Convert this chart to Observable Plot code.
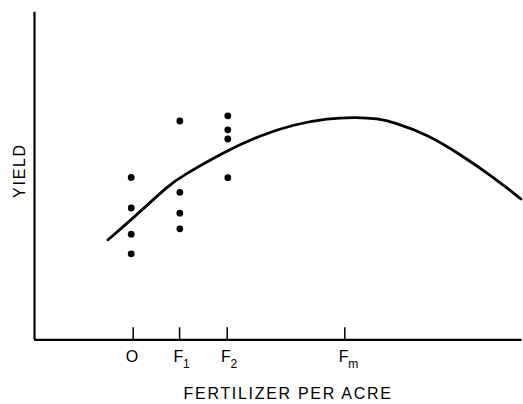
<!DOCTYPE html>
<html>
<head>
<meta charset="utf-8">
<script src="https://cdn.jsdelivr.net/npm/d3@7"></script>
<script src="https://cdn.jsdelivr.net/npm/@observablehq/plot@0.6"></script>
<style>
  html, body { margin: 0; padding: 0; background: #fff; }
</style>
</head>
<body>
<div id="chart"></div>
<script>
// Fertilizer levels (x, arbitrary units) and their tick labels
const tickX = [2.025, 2.976, 3.953, 6.365];
const tickMain = ["O", "F", "F", "F"];
const tickSub = ["", "1", "2", "m"];

// Observed yields at each fertilizer level
const groupX = [1.984, 2.981, 3.965];
const yieldO  = [4.954, 4.023, 3.223, 2.625];
const yieldF1 = [6.679, 4.502, 3.864, 3.388];
const yieldF2 = [6.838, 6.410, 6.129, 4.948];

// Response curve
const curveX = [1.508, 1.984, 2.790, 2.995, 3.965, 4.636, 5.313, 6.010, 6.626, 7.036, 7.364, 8.062, 8.738, 9.415, 9.979];
const curveY = [3.053, 3.663, 4.762, 4.969, 5.794, 6.242, 6.572, 6.764, 6.798, 6.749, 6.648, 6.267, 5.656, 4.963, 4.298];

const xTitle = "FERTILIZER PER ACRE";
const yTitle = "YIELD";

const points = [
  ...yieldO.map(y => ({x: groupX[0], y})),
  ...yieldF1.map(y => ({x: groupX[1], y})),
  ...yieldF2.map(y => ({x: groupX[2], y}))
];
const curve = curveX.map((x, i) => ({x, y: curveY[i]}));
const ticks = tickX.map((x, i) => ({x, main: tickMain[i], sub: tickSub[i]}));

const chart = Plot.plot({
  width: 523,
  height: 404,
  marginLeft: 34,
  marginRight: 1.5,
  marginTop: 11.7,
  marginBottom: 64.7,
  style: {fontFamily: "'Liberation Sans', Arial, Helvetica, sans-serif", background: "#fff", color: "#000"},
  x: {domain: [0, 10], axis: null},
  y: {domain: [0, 10], axis: null},
  marks: [
    Plot.ruleX([0], {stroke: "#000", strokeWidth: 2.2}),
    Plot.ruleY([0], {stroke: "#000", strokeWidth: 2.2}),
    Plot.ruleX(ticks, {x: "x", stroke: "#000", strokeWidth: 1.5, insetTop: 315.6}),
    Plot.text(ticks, {x: "x", text: "main", frameAnchor: "bottom", lineAnchor: "bottom", textAnchor: "middle", dy: 22.4, dx: -1.2, fontSize: 16, fill: "#000"}),
    Plot.text(ticks, {x: "x", text: "sub", frameAnchor: "bottom", lineAnchor: "bottom", textAnchor: "start", dy: 27.7, dx: 3.4, fontSize: 12, fill: "#000"}),
    Plot.text([xTitle], {text: d => d, frameAnchor: "bottom", lineAnchor: "bottom", textAnchor: "middle", dy: 59, dx: 9.8, fontSize: 16, fill: "#000"}),
    Plot.text([yTitle], {text: d => d, frameAnchor: "left", rotate: -90, textAnchor: "middle", lineAnchor: "middle", dx: -15, dy: -5.5, fontSize: 16, fill: "#000"}),
    Plot.line(curve, {x: "x", y: "y", curve: "basis", stroke: "#000", strokeWidth: 2.8}),
    Plot.dot(points, {x: "x", y: "y", r: 3.4, fill: "#000", stroke: "none"})
  ]
});
// widen the letter spacing of the two axis titles
d3.select(chart).selectAll("text")
  .filter(function() { return this.textContent === xTitle || this.textContent === yTitle; })
  .style("letter-spacing", "1.7px");
document.getElementById("chart").appendChild(chart);
</script>
</body>
</html>
